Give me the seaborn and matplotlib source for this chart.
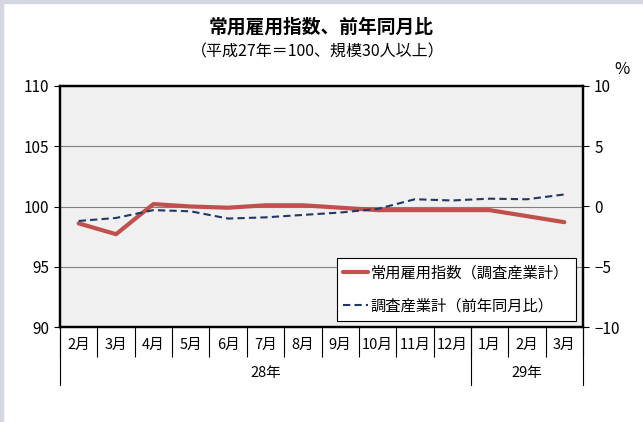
import matplotlib
matplotlib.use("Agg")
import matplotlib.pyplot as plt
from matplotlib.patches import Rectangle
import seaborn as sns
import pandas as pd

months = ["2月", "3月", "4月", "5月", "6月", "7月", "8月", "9月", "10月", "11月", "12月", "1月", "2月", "3月"]
years = ["28年", "29年"]
months_per_year = [11, 3]
index_values = [98.6, 97.7, 100.2, 100.0, 99.9, 100.1, 100.1, 99.9, 99.7, 99.7, 99.7, 99.7, 99.2, 98.7]
yoy_values = [-1.2, -0.95, -0.3, -0.4, -1.0, -0.9, -0.7, -0.5, -0.2, 0.6, 0.5, 0.65, 0.6, 1.0]
label_index = "常用雇用指数（調査産業計）"
label_yoy = "調査産業計（前年同月比）"

sns.set_theme(style="white")
plt.rcParams["font.family"] = ["Noto Sans CJK JP", "DejaVu Sans"]
plt.rcParams["text.color"] = "black"
plt.rcParams["xtick.color"] = "black"
plt.rcParams["ytick.color"] = "black"

df = pd.DataFrame({"pos": range(len(months)), "index": index_values, "yoy": yoy_values})

fig = plt.figure(figsize=(6.43, 4.22), dpi=100)
W, H = 643, 422
ax = fig.add_axes([60 / W, 1 - 327 / H, 523 / W, 241 / H])
ax.set_facecolor("#f0f0f0")
ax2 = ax.twinx()

sns.lineplot(data=df, x="pos", y="index", ax=ax, color="#c0504d", linewidth=3, label=label_index, legend=False)
sns.lineplot(data=df, x="pos", y="yoy", ax=ax2, color="#1f3864", linewidth=1.5, linestyle=(0, (3.5, 2)),
             label=label_yoy, legend=False)

ax.set_ylim(90, 110)
ax.set_yticks([90, 95, 100, 105, 110])
ax2.set_ylim(-10, 10)
ax2.set_yticks([-10, -5, 0, 5, 10])
ax.set_xlim(-0.5, len(months) - 0.5)
ax.yaxis.grid(True, color="#808080", linewidth=0.8)
ax.set_axisbelow(True)
ax.set_xlabel("")
ax.set_ylabel("")
ax2.set_ylabel("")

for a in (ax, ax2):
    for s in a.spines.values():
        s.set_color("black")
        s.set_linewidth(1.6)
ax.tick_params(axis="y", direction="out", length=4, width=0.8, color="black", labelsize=11, pad=4, left=True)
ax2.tick_params(axis="y", direction="out", length=4, width=0.8, color="black", labelsize=11, pad=4, right=True)

# month labels + separators (minor ticks)
ax.set_xticks(range(len(months)))
ax.set_xticklabels(months)
ax.set_xticks([i - 0.5 for i in range(len(months) + 1)], minor=True)
ax.tick_params(axis="x", which="major", length=0, labelsize=10.5, pad=8)
ax.tick_params(axis="x", which="minor", direction="out", length=21.6, width=0.8, color="black", bottom=True)

# year groups
start = -0.5
bounds = [start]
for name, n in zip(years, months_per_year):
    ax.text(start + n / 2, -46 / 241, name, transform=ax.get_xaxis_transform(),
            ha="center", va="center", fontsize=10.5)
    start += n
    bounds.append(start)
for b in bounds:
    ax.axvline(b, ymin=-58 / 241, ymax=0, clip_on=False, color="black", linewidth=0.8)

h1, l1 = ax.get_legend_handles_labels()
h2, l2 = ax2.get_legend_handles_labels()
leg = ax2.legend(h1 + h2, l1 + l2, loc="lower right", bbox_to_anchor=(516 / 523, 6 / 241),
                 borderaxespad=0, fancybox=False, framealpha=1, edgecolor="black",
                 fontsize=11, handlelength=1.6, handletextpad=0.2, labelspacing=1.0, borderpad=0.45)
leg.get_frame().set_linewidth(0.8)
for t in leg.get_texts():
    t.set_color("black")

fig.text(321 / W, 1 - 27 / H, "常用雇用指数、前年同月比", ha="center", va="center", fontsize=13.5, fontweight="bold")
fig.text(318 / W, 1 - 52 / H, "（平成27年＝100、規模30人以上）", ha="center", va="center", fontsize=11.5)
fig.text(622 / W, 1 - 70 / H, "%", ha="center", va="center", fontsize=12)

fig.add_artist(Rectangle((0, 1 - 3 / H), 1, 3 / H, transform=fig.transFigure, color="#d4d7e0", zorder=0))
fig.add_artist(Rectangle((0, 0), 2.5 / W, 1, transform=fig.transFigure, color="#d4d7e0", zorder=0))

fig.savefig("out.png", dpi=100)
